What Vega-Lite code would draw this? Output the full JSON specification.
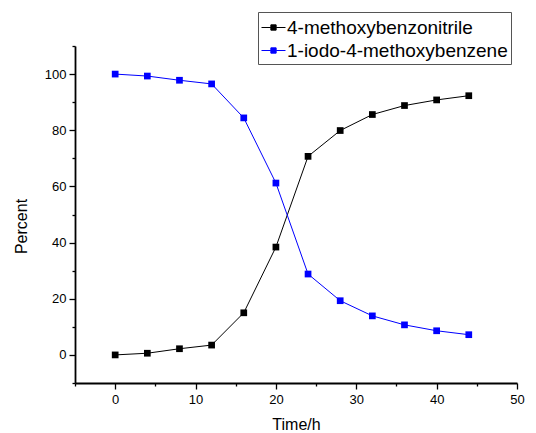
{
  "$schema": "https://vega.github.io/schema/vega-lite/v6.json",
  "autosize": "none",
  "width": 442,
  "height": 337,
  "padding": {"left": 75, "top": 46, "right": 19, "bottom": 50},
  "background": "white",
  "config": {
    "font": "Liberation Sans",
    "view": {"stroke": null},
    "axis": {"grid": false, "domainColor": "black", "domainWidth": 1.8, "tickColor": "black", "tickWidth": 1.3, "labelColor": "black", "titleColor": "black", "labelFont": "Liberation Sans", "titleFont": "Liberation Sans", "labelFontSize": 13, "titleFontSize": 16, "titleFontWeight": "normal"}
  },
  "data": {"values": [
    {"t": 0, "s": "4-methoxybenzonitrile", "p": 0},
    {"t": 4, "s": "4-methoxybenzonitrile", "p": 0.6},
    {"t": 8, "s": "4-methoxybenzonitrile", "p": 2.2},
    {"t": 12, "s": "4-methoxybenzonitrile", "p": 3.5},
    {"t": 16, "s": "4-methoxybenzonitrile", "p": 15},
    {"t": 20, "s": "4-methoxybenzonitrile", "p": 38.4},
    {"t": 24, "s": "4-methoxybenzonitrile", "p": 70.7},
    {"t": 28, "s": "4-methoxybenzonitrile", "p": 79.9},
    {"t": 32, "s": "4-methoxybenzonitrile", "p": 85.6},
    {"t": 36, "s": "4-methoxybenzonitrile", "p": 88.8},
    {"t": 40, "s": "4-methoxybenzonitrile", "p": 90.8},
    {"t": 44, "s": "4-methoxybenzonitrile", "p": 92.3},
    {"t": 0, "s": "1-iodo-4-methoxybenzene", "p": 100},
    {"t": 4, "s": "1-iodo-4-methoxybenzene", "p": 99.3},
    {"t": 8, "s": "1-iodo-4-methoxybenzene", "p": 97.8},
    {"t": 12, "s": "1-iodo-4-methoxybenzene", "p": 96.5},
    {"t": 16, "s": "1-iodo-4-methoxybenzene", "p": 84.4},
    {"t": 20, "s": "1-iodo-4-methoxybenzene", "p": 61.2},
    {"t": 24, "s": "1-iodo-4-methoxybenzene", "p": 28.8},
    {"t": 28, "s": "1-iodo-4-methoxybenzene", "p": 19.3},
    {"t": 32, "s": "1-iodo-4-methoxybenzene", "p": 13.9},
    {"t": 36, "s": "1-iodo-4-methoxybenzene", "p": 10.7},
    {"t": 40, "s": "1-iodo-4-methoxybenzene", "p": 8.6},
    {"t": 44, "s": "1-iodo-4-methoxybenzene", "p": 7.2}
  ]},
  "encoding": {
    "x": {"field": "t", "type": "quantitative", "scale": {"domain": [-5, 50], "nice": false, "zero": false},
      "axis": {"title": "Time/h", "values": [-5, 0, 5, 10, 15, 20, 25, 30, 35, 40, 45, 50], "labelExpr": "datum.value % 10 === 0 ? datum.label : ''", "tickSize": {"condition": {"test": "datum.value % 10 === 0", "value": 6}, "value": 3}, "labelPadding": 4, "titlePadding": 10, "labelFlush": false}},
    "y": {"field": "p", "type": "quantitative", "scale": {"domain": [-10, 110], "nice": false, "zero": false},
      "axis": {"title": "Percent", "values": [-10, 0, 10, 20, 30, 40, 50, 60, 70, 80, 90, 100, 110], "labelExpr": "datum.value % 20 === 0 ? datum.label : ''", "tickSize": {"condition": {"test": "datum.value % 20 === 0", "value": 6}, "value": 3}, "labelPadding": 3, "titlePadding": 15, "titleY": 180, "labelFlush": false}},
    "color": {"field": "s", "type": "nominal", "sort": ["4-methoxybenzonitrile", "1-iodo-4-methoxybenzene"],
      "scale": {"domain": ["4-methoxybenzonitrile", "1-iodo-4-methoxybenzene"], "range": ["#000000", "#0000ff"]},
      "legend": {"title": null, "orient": "none", "legendX": 183, "legendY": -34, "fillColor": "white", "strokeColor": "#555555", "padding": 3, "labelFontSize": 19, "labelFont": "Liberation Sans", "labelColor": "black", "labelLimit": 0, "symbolType": "M-1,0H-0.22M0.22,0H1M-0.22,-0.22H0.22V0.22H-0.22Z", "symbolSize": 576, "symbolStrokeWidth": 1, "rowPadding": 0, "labelOffset": 1, "offset": 0}}
  },
  "layer": [
    {"mark": {"type": "line", "strokeWidth": 1}},
    {"mark": {"type": "point", "shape": "square", "filled": true, "size": 45, "opacity": 1}}
  ]
}
